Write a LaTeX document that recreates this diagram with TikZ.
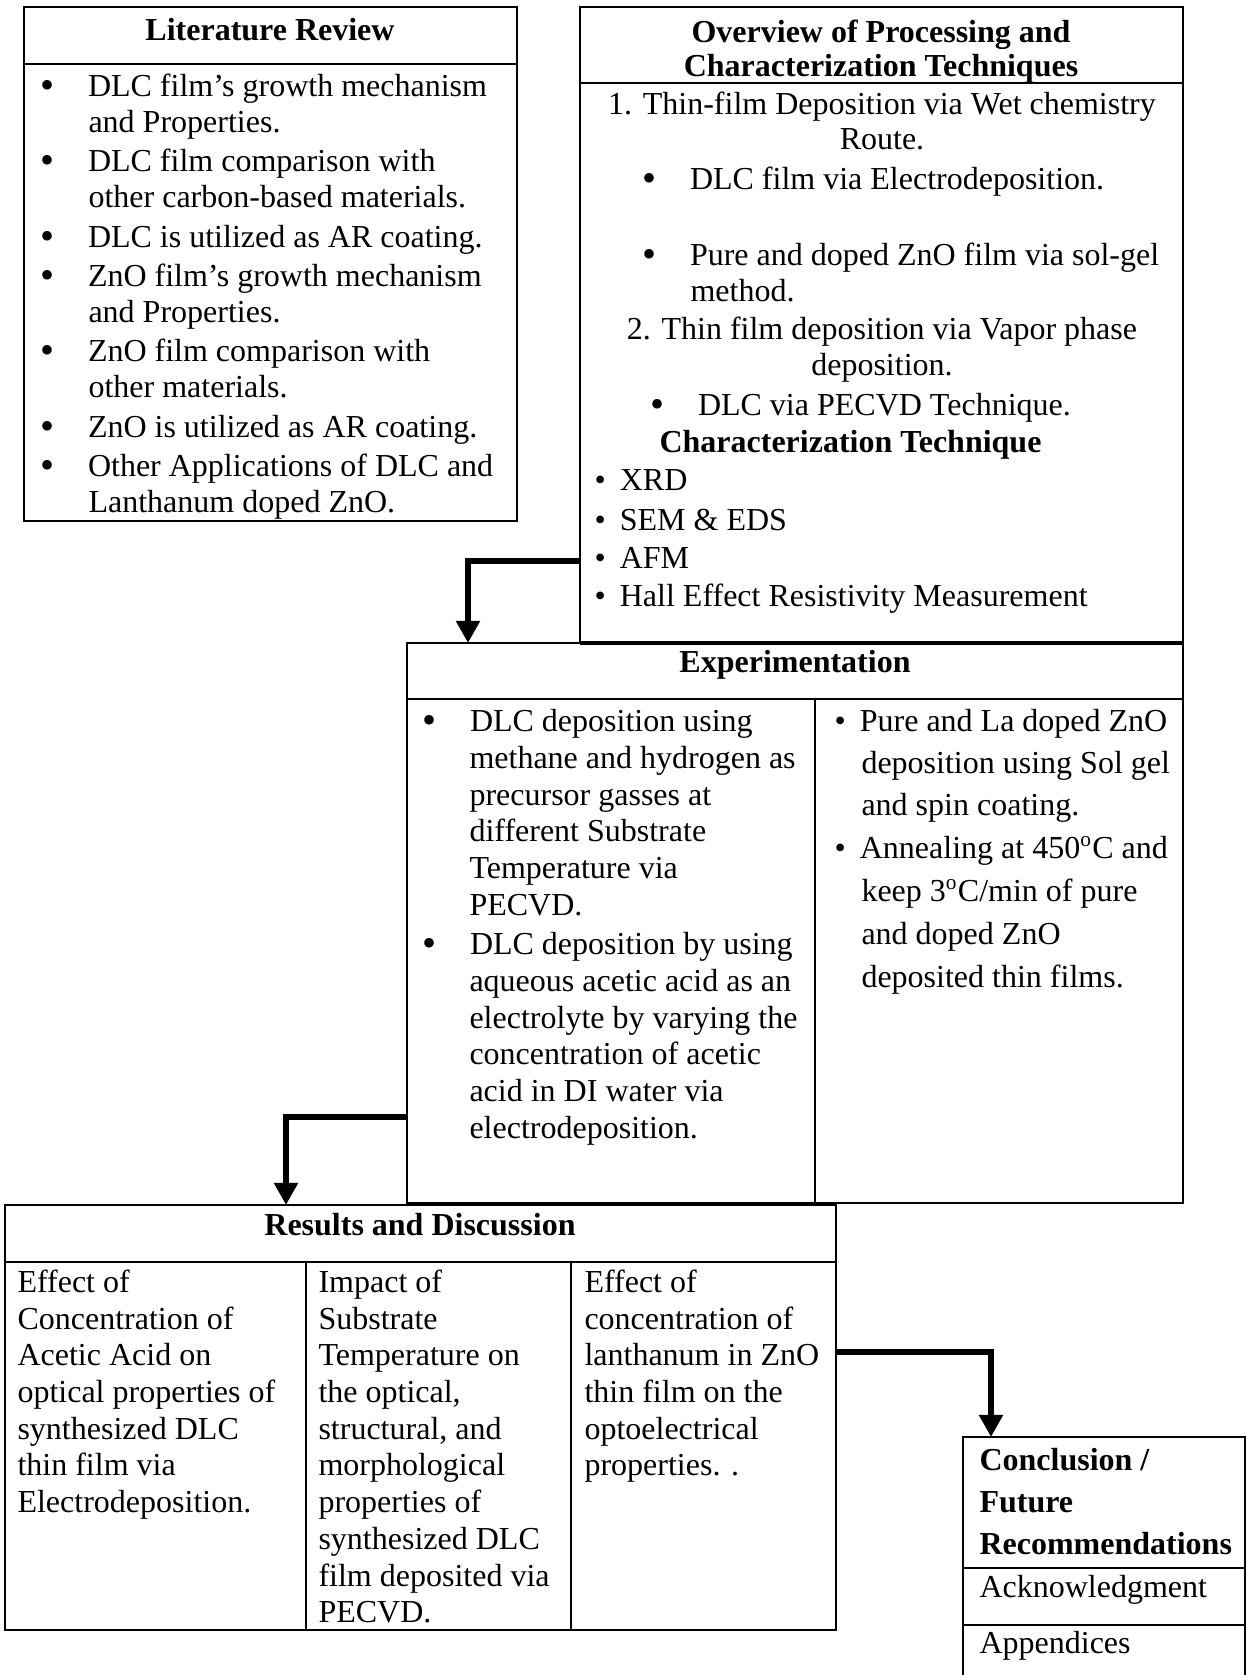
\documentclass[tikz,border=0pt]{standalone}
\usepackage{fontspec}
\setmainfont{Liberation Serif}
\usetikzlibrary{arrows.meta}
\newcommand{\wbul}{\makebox[17.8pt][l]{\raisebox{-1pt}{\fontsize{15}{15}\selectfont\textbullet}}}
\newcommand{\nbul}{\makebox[9.5pt][l]{\textbullet}}
\tikzset{
    frame/.style = {draw, line width = 0.75pt, inner sep = 0pt, outer sep = 0pt, anchor = north west},
    rule/.style = {line width = 0.75pt},
    txt/.style = {inner sep = 0pt, anchor = base west, font = {\fontsize{12}{14}\selectfont}},
    ctxt/.style = {txt, anchor = base},
    hdr/.style = {txt, anchor = base, font = {\fontsize{12}{14}\selectfont\bfseries}},
    flow/.style = {line width = 2.6pt, -{Triangle[width = 8.6pt, length = 8.3pt]}}
}
\begin{document}
\begin{tikzpicture}[x = 0.375pt, y = -0.375pt]
        \useasboundingbox (0, 0) rectangle (1252, 1675);

        \node[frame, minimum width = {493*0.375pt}, minimum height = {514*0.375pt}] (lit) at (24, 7) {};
        \draw[rule] (24, 64) -- (517, 64);
        \node[hdr] (litT) at (270, 40) {Literature Review};
        \node[txt] (lit1) at (40, 96) {\wbul DLC film’s growth mechanism};
        \node[txt] (lit2) at (88, 132) {and Properties.};
        \node[txt] (lit3) at (40, 171) {\wbul DLC film comparison with};
        \node[txt] (lit4) at (88, 207) {other carbon-based materials.};
        \node[txt] (lit5) at (40, 247) {\wbul DLC is utilized as AR coating.};
        \node[txt] (lit6) at (40, 286) {\wbul ZnO film’s growth mechanism};
        \node[txt] (lit7) at (88, 322) {and Properties.};
        \node[txt] (lit8) at (40, 361) {\wbul ZnO film comparison with};
        \node[txt] (lit9) at (88, 397) {other materials.};
        \node[txt] (lit10) at (40, 437) {\wbul ZnO is utilized as AR coating.};
        \node[txt] (lit11) at (40, 476) {\wbul Other Applications of DLC and};
        \node[txt] (lit12) at (88, 512) {Lanthanum doped ZnO.};

        \node[frame, minimum width = {603*0.375pt}, minimum height = {636*0.375pt}] (ovw) at (580, 7) {};
        \draw[rule] (580, 83) -- (1183, 83);
        \node[hdr] (ovwT1) at (881, 42) {Overview of Processing and};
        \node[hdr] (ovwT2) at (881, 76) {Characterization Techniques};
        \node[ctxt] (ovw1) at (882, 114) {1. Thin-film Deposition via Wet chemistry};
        \node[ctxt] (ovw2) at (882, 149) {Route.};
        \node[txt] (ovw3) at (642, 189) {\wbul DLC film via Electrodeposition.};
        \node[txt] (ovw4) at (642, 265) {\wbul Pure and doped ZnO film via sol-gel};
        \node[txt] (ovw5) at (690, 301) {method.};
        \node[ctxt] (ovw6) at (882, 339) {2. Thin film deposition via Vapor phase};
        \node[ctxt] (ovw7) at (882, 375) {deposition.};
        \node[txt] (ovw8) at (650, 415) {\wbul DLC via PECVD Technique.};
        \node[txt, font = {\fontsize{12}{14}\selectfont\bfseries}] (ovw9) at (659, 452) {Characterization Technique};
        \node[txt] (ovw10) at (594, 490) {\nbul XRD};
        \node[txt] (ovw11) at (594, 530) {\nbul SEM \& EDS};
        \node[txt] (ovw12) at (594, 568) {\nbul AFM};
        \node[txt] (ovw13) at (594, 606) {\nbul Hall Effect Resistivity Measurement};

        \node[frame, minimum width = {776*0.375pt}, minimum height = {560*0.375pt}] (exp) at (407, 643) {};
        \draw[line width = 1.4pt] (ovw.south west) -- (ovw.south east);
        \draw[rule] (407, 699) -- (1183, 699);
        \draw[rule] (815, 699) -- (815, 1203);
        \node[hdr] (expT) at (795, 672) {Experimentation};
        \node[txt] (exp1) at (422, 731) {\wbul DLC deposition using};
        \node[txt] (exp2) at (469, 768) {methane and hydrogen as};
        \node[txt] (exp3) at (469, 805) {precursor gasses at};
        \node[txt] (exp4) at (469, 841) {different Substrate};
        \node[txt] (exp5) at (469, 878) {Temperature via};
        \node[txt] (exp6) at (469, 915) {PECVD.};
        \node[txt] (exp7) at (422, 954) {\wbul DLC deposition by using};
        \node[txt] (exp8) at (469, 991) {aqueous acetic acid as an};
        \node[txt] (exp9) at (469, 1028) {electrolyte by varying the};
        \node[txt] (exp10) at (469, 1064) {concentration of acetic};
        \node[txt] (exp11) at (469, 1101) {acid in DI water via};
        \node[txt] (exp12) at (469, 1138) {electrodeposition.};
        \node[txt] (exp13) at (834, 731) {\nbul Pure and La doped ZnO};
        \node[txt] (exp14) at (861, 773) {deposition using Sol gel};
        \node[txt] (exp15) at (861, 815) {and spin coating.};
        \node[txt] (exp16) at (834, 858) {\nbul Annealing at 450\textsuperscript{o}C and};
        \node[txt] (exp17) at (861, 901) {keep 3\textsuperscript{o}C/min of pure};
        \node[txt] (exp18) at (861, 944) {and doped ZnO};
        \node[txt] (exp19) at (861, 987) {deposited thin films.};

        \node[frame, minimum width = {831*0.375pt}, minimum height = {425*0.375pt}] (res) at (5, 1205) {};
        \draw[rule] (5, 1262) -- (836, 1262);
        \draw[rule] (306, 1262) -- (306, 1630);
        \draw[rule] (571, 1262) -- (571, 1630);
        \node[hdr] (resT) at (420, 1235) {Results and Discussion};
        \node[txt] (res1) at (17, 1292) {Effect of};
        \node[txt] (res2) at (17, 1329) {Concentration of};
        \node[txt] (res3) at (17, 1365) {Acetic Acid on};
        \node[txt] (res4) at (17, 1402) {optical properties of};
        \node[txt] (res5) at (17, 1439) {synthesized DLC};
        \node[txt] (res6) at (17, 1475) {thin film via};
        \node[txt] (res7) at (17, 1512) {Electrodeposition.};
        \node[txt] (res8) at (318, 1292) {Impact of};
        \node[txt] (res9) at (318, 1329) {Substrate};
        \node[txt] (res10) at (318, 1365) {Temperature on};
        \node[txt] (res11) at (318, 1402) {the optical,};
        \node[txt] (res12) at (318, 1439) {structural, and};
        \node[txt] (res13) at (318, 1475) {morphological};
        \node[txt] (res14) at (318, 1512) {properties of};
        \node[txt] (res15) at (318, 1549) {synthesized DLC};
        \node[txt] (res16) at (318, 1586) {film deposited via};
        \node[txt] (res17) at (318, 1622) {PECVD.};
        \node[txt] (res18) at (584, 1292) {Effect of};
        \node[txt] (res19) at (584, 1329) {concentration of};
        \node[txt] (res20) at (584, 1365) {lanthanum in ZnO};
        \node[txt] (res21) at (584, 1402) {thin film on the};
        \node[txt] (res22) at (584, 1439) {optoelectrical};
        \node[txt] (res23) at (584, 1475) {properties. .};

        \node[inner sep = 0pt, outer sep = 0pt, anchor = north west, minimum width = {282*0.375pt}, minimum height = {238*0.375pt}] (con) at (963, 1437) {};
        \draw[rule] (con.south west) -- (con.north west) -- (con.north east) -- (con.south east);
        \draw[rule] (963, 1568) -- (1245, 1568);
        \draw[rule] (963, 1625) -- (1245, 1625);
        \node[txt, font = {\fontsize{12}{14}\selectfont\bfseries}] (con1) at (979, 1470) {Conclusion /};
        \node[txt, font = {\fontsize{12}{14}\selectfont\bfseries}] (con2) at (979, 1512) {Future};
        \node[txt, font = {\fontsize{12}{14}\selectfont\bfseries}] (con3) at (979, 1554) {Recommendations};
        \node[txt] (con4) at (979, 1597) {Acknowledgment};
        \node[txt] (con5) at (979, 1653) {Appendices};

        \coordinate (k1) at (468, 561);
        \coordinate (k2) at (286, 1117);
        \coordinate (k3) at (991, 1352);
        \draw[flow] (k1 -| ovw.west) -- (k1) -- (k1 |- exp.north);
        \draw[flow] (k2 -| exp.west) -- (k2) -- (k2 |- res.north);
        \draw[flow] (k3 -| res.east) -- (k3) -- (k3 |- con.north);
    \end{tikzpicture}
\end{document}
